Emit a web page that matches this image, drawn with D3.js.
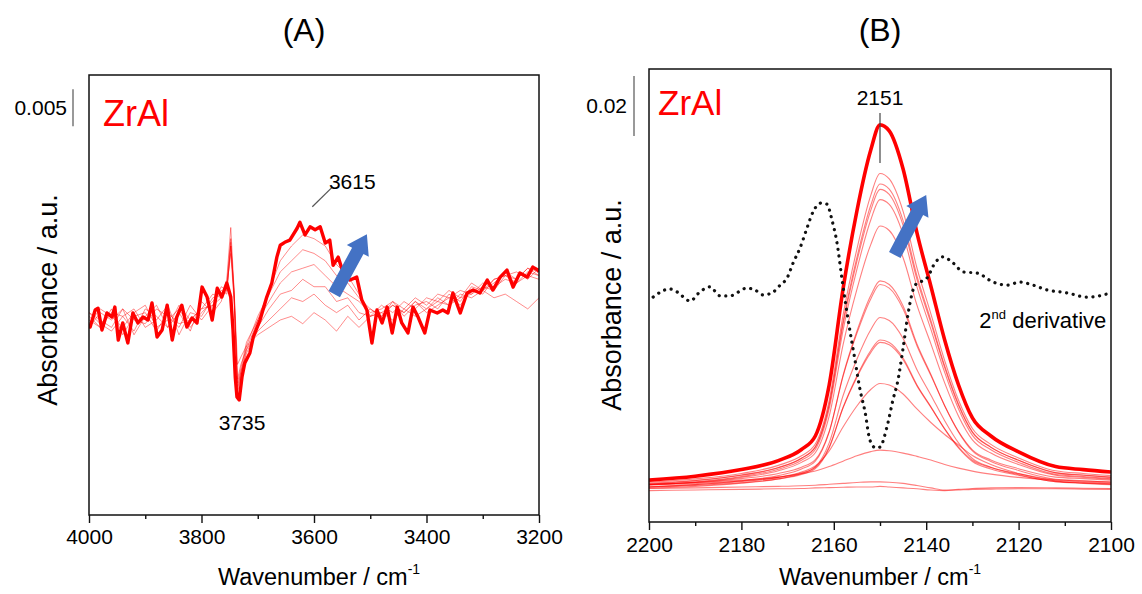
<!DOCTYPE html>
<html><head><meta charset="utf-8">
<script src="https://cdn.jsdelivr.net/npm/d3@7"></script>
<style>body{margin:0;background:#fff}svg{display:block}text{font-family:Arial,"Liberation Sans",sans-serif;fill:#000}</style>
</head><body><svg id="c" width="1142" height="594"></svg>
<script>
// ---------- Panel A data (absorbance in mAbs = 1e-3) ----------
const wnA = [4000,3998,3989,3984,3977,3968,3959,3954,3948,3940,3931,3922,3913,3904,3895,3888,3879,3870,3861,3852,3844,3835,3826,3817,3808,3799,3790,3781,3772,3764,3755,3748,3744,3740,3737,3733,3728,3723,3714,3708,3696,3684,3675,3666,3660,3652,3643,3630,3625,3616,3607,3598,3589,3580,3572,3566,3557,3548,3536,3524,3515,3506,3497,3488,3479,3470,3461,3452,3444,3433,3424,3415,3403,3394,3381,3371,3362,3353,3340,3328,3317,3305,3292,3282,3269,3257,3246,3234,3221,3211,3202,3200];
const thickA = [-0.5,-0.95,1.35,1.6,-1.35,0.95,0.4,1.75,-2.7,-0.4,-3.1,0.95,-0.4,0.4,0,2.3,-2.3,-1.35,2.0,-2.7,0.4,2.0,-0.95,0.27,-0.4,4.45,3.1,0,4.3,3.1,5.0,3.1,-1.35,-7.7,-10.4,-10.8,-7.7,-5.8,-4.45,-2.3,0,3.1,5.0,8.5,10.1,10.5,10.8,12.4,13.2,11.5,12.6,12.2,12.6,10.4,10.8,7.4,8.5,6.35,5.4,5.8,2.7,1.35,-3.1,1.35,-0.4,1.75,-1.75,1.75,-0.4,-1.75,1.75,0.4,-1.75,1.35,0.95,1.35,0.95,3.65,0.95,3.65,4.05,3.65,5.4,4.05,5.8,6.75,4.45,6.35,5.8,7.15,6.75,6.5];
const wnThinA = [4000,3980,3960,3940,3920,3900,3880,3860,3840,3820,3800,3780,3765,3755,3748,3742,3736,3730,3720,3700,3680,3660,3640,3620,3600,3580,3560,3540,3520,3500,3480,3460,3440,3420,3400,3380,3360,3340,3320,3300,3280,3260,3240,3220,3200];
const thinA1 = [0.5,-1,1.5,-2,0.5,1,-1.5,1,-0.5,0,1.5,2, 3,4,10,4,-6,-5,-3.5, -2,-1,0,0.5,-0.5,1,0,-1.5,0.5,-1,0.5,1,2,1,2.5,1.5,3,2,3.5,3,4,3,3.5,2.5,1.5,3];
const thinA2 = [-1,1,0,1.5,-2,0.5,2,-1,1,-1.5,2.5,1, 2.5,5,11,3,-8,-6,-4, -1.5,0,1.5,3,2.5,3.5,2,1,2,0,1.5,0.5,2.5,1.5,3,2,3.5,3,4,3.5,5,4.5,5.5,5,6,5.5];
const thinA3 = [1,-0.5,-1.5,0.5,1.5,-1,0,2,-2,1,0.5,3, 3.5,4.5,9,2.5,-9,-7,-4.5, -1,1.5,3.5,4,5.5,4.5,4.5,2.5,3,1,0.5,2,1,2.5,1.5,3,2.5,4,3,5,4,5.5,6,5,6.5,6];
const thinA4 = [-0.5,1.5,0.5,-1,1,2,-1,0,1.5,-1,1,2.5, 4,3.5,10.5,3.5,-8.5,-6.5,-3, 0,2.5,5,6.5,7,7.5,6,4.5,3.5,2.5,1,1.5,2.5,0.5,2,2.5,1.5,3.5,2.5,4.5,4,5,6.5,5.5,7,6.5];
const thinA5 = [0,-1,1,0.5,-1.5,1.5,0.5,-1,2,0,1.5,3.5, 3,5.5,12.5,4,-9.5,-7,-3.5, 0.5,3.5,6.5,8,9.5,9,8,6,5,3,1.5,0.5,2,1,2.5,1,2,3,2,4,3.5,5.5,6,6.5,5.5,7];
const thinA6 = [1,0,-1,1.5,0,-0.5,1.5,0.5,-1,2,0,2, 4.5,4,10,3,-10,-7.5,-4, 0,4,8,10,11.5,11,10,7.5,6,3.5,0.5,1,0,1.5,0.5,1.5,2.5,2,3,3.5,4.5,4,6,5.5,7,6];
const thinAll = [thinA1,thinA2,thinA3,thinA4,thinA5,thinA6];
const majorTicksA = [4000,3800,3600,3400,3200];
const minorTicksA = [3900,3700,3500,3300];

// ---------- Panel B data (mAbs) ----------
const wnB = [2200,2190,2180,2172,2167,2164,2161,2158,2155,2152,2150,2148,2145,2142,2139,2136,2133,2130,2126,2120,2112,2106,2100];
const thickB = [2.3,3.6,5.8,8.8,12.5,17,34,66,92,112.3,120.7,118.7,106,84.7,67,49,34,23,17,11.7,6.8,5.8,5.0];
const thinB1 = [1.6,2.7,4.5,7.2,10.4,14.3,28.9,57.3,79.3,97.2,104.5,102.7,91.9,73.0,57.8,42.1,28.9,19.5,14.2,9.7,5.4,4.5,3.8];
const thinB2 = [1.0,2.1,3.9,6.4,9.6,13.4,27.6,55.1,76.5,93.9,101,99.3,88.8,70.4,55.6,40.4,27.6,18.4,13.3,8.9,4.7,3.9,3.2];
const thinB3 = [1.2,2.2,4.0,6.5,9.6,13.3,27.2,54.2,75.2,92.2,99.2,97.5,87.2,69.2,54.7,39.8,27.2,18.2,13.2,8.9,4.8,4.0,3.3];
const thinB4 = [0.7,1.7,3.5,5.9,8.9,12.5,26.0,52.2,72.5,89.0,95.8,94.2,84.2,66.7,52.6,38.2,26.0,17.2,12.4,8.2,4.2,3.5,2.8];
const thinB5 = [0.8,1.6,3.2,5.4,8.2,11.4,23.6,47.4,65.9,80.8,87.0,85.5,76.4,60.6,47.8,34.7,23.6,15.7,11.3,7.5,3.9,3.2,2.6];
const thinB6 = [0.1,0.8,2.1,3.8,6.0,8.6,18.3,37.2,51.9,63.8,68.7,67.5,60.3,47.7,37.6,27.1,18.3,12.0,8.5,5.5,2.6,2.1,1.6];
const thinB7 = [0.9,1.5,2.8,4.5,6.6,9.1,18.5,36.9,51.2,62.7,67.5,66.3,59.3,47.1,37.2,27.1,18.5,12.4,9.0,6.1,3.3,2.8,2.3];
const thinB8 = [-0.3,0.2,1.3,2.7,4.5,6.7,14.7,30.4,42.6,52.4,56.5,55.5,49.5,39.1,30.7,22.1,14.7,9.5,6.6,4.1,1.8,1.3,0.9];
const thinB9 = [0,0.5,1.4,2.7,4.2,6.1,13.0,26.5,37.0,45.5,49.0,48.2,43.0,34.0,26.8,19.3,13.0,8.5,6.0,3.9,1.8,1.4,1.1];
const thinB10 = [0.7,1.2,2.0,3.2,4.7,6.5,13.3,26.4,36.6,44.8,48.2,47.4,42.4,33.7,26.6,19.4,13.3,8.9,6.5,4.4,2.4,2.0,1.7];
const thinB11 = [0,0.8,1.8,3.2,5.0,7.0,12.0,20.0,27.0,32.5,34.5,34.0,31.0,26.0,21.5,17.5,14.0,10.5,7.5,4.5,2.0,1.2,0.8];
const thinB12 = [0.8,1.5,2.3,3.3,4.4,5.3,6.8,8.6,10.4,11.8,12.3,12.1,11.3,10.2,9.0,7.5,6.3,5.3,4.3,3.2,2.2,1.7,1.3];
const thinB13 = [-0.5,-0.3,0,0.2,0.4,0.6,0.9,1.2,1.5,1.7,1.7,1.6,1.2,0.5,-0.3,-1.0,-0.8,-0.5,-0.3,-0.2,-0.3,-0.4,-0.5];
const thinB14 = [-1.2,-1.0,-0.8,-0.6,-0.5,-0.3,-0.2,-0.1,0,0,0.2,0,-0.3,-0.6,-1.0,-1.2,-1.0,-0.8,-0.7,-0.6,-0.6,-0.7,-0.8];
const thinBAll = [thinB1,thinB2,thinB3,thinB4,thinB5,thinB6,thinB7,thinB8,thinB9,thinB10,thinB11,thinB12,thinB13,thinB14];
// 2nd derivative (offset, arbitrary scale, drawn in same units)
const wnD = [2199.1,2195.5,2193.9,2191.1,2189.0,2186.8,2184.6,2182.5,2178.8,2177.1,2175.3,2173.4,2171.6,2170.1,2168.8,2167.3,2165.8,2164.5,2162.6,2161.5,2160.4,2159.3,2158.2,2156.9,2155.6,2154.3,2153.2,2152.2,2150.9,2150.0,2148.5,2147.2,2146.1,2145.0,2143.9,2142.4,2139.8,2138.1,2136.4,2134.2,2132.0,2129.0,2125.5,2122.5,2119.7,2116.9,2113.9,2109.5,2105.2,2101.7,2100.2];
const derivD = [63.3,66.0,65.0,62.0,65.0,66.7,63.7,63.7,66.3,65.7,64.0,64.7,67.3,69.7,74.7,79.7,86.3,91.7,94.7,94.3,89.0,81.3,69.0,55.7,44.0,32.3,24.7,15.7,13.0,13.3,20.0,29.0,35.7,46.3,58.0,67.3,69.7,74.7,76.7,74.7,71.7,71.3,68.3,67.3,68.3,67.3,65.7,64.7,63.3,64.0,64.7];
const majorTicksB = [2200,2180,2160,2140,2120,2100];
const minorTicksB = [2190,2170,2150,2130,2110];

// ---------- Layout ----------
const svg = d3.select("#c");
const RED = "#ff0000";
const A = {l:89, r:539, t:75, b:515};
const B = {l:649, r:1111, t:69, b:522};
const xA = d3.scaleLinear([4000,3200],[A.l,A.r]);
const yA = d3.scaleLinear([-26.35,33.11],[A.b,A.t]);
const xB = d3.scaleLinear([2200,2100],[B.l,B.r]);
const yB = d3.scaleLinear([-11.67,139.33],[B.b,B.t]);

const defs = svg.append("defs");
defs.append("clipPath").attr("id","clipA").append("rect").attr("x",A.l).attr("y",A.t).attr("width",A.r-A.l).attr("height",A.b-A.t);
defs.append("clipPath").attr("id","clipB").append("rect").attr("x",B.l).attr("y",B.t).attr("width",B.r-B.l).attr("height",B.b-B.t);

function frame(P, x, major, minor, pad){
  svg.append("rect").attr("x",P.l).attr("y",P.t).attr("width",P.r-P.l).attr("height",P.b-P.t)
    .attr("fill","none").attr("stroke","#111").attr("stroke-width",1.5);
  const g = svg.append("g").attr("transform",`translate(0,${P.b})`)
    .call(d3.axisBottom(x).tickValues(major).tickSize(8).tickSizeOuter(0).tickPadding(pad).tickFormat(d3.format("d")));
  g.select(".domain").remove();
  g.selectAll("line").attr("stroke","#111").attr("stroke-width",1.4);
  g.selectAll("text").attr("font-size",21).attr("font-family","Arial, 'Liberation Sans', sans-serif").attr("fill","#000");
  const g2 = svg.append("g").attr("transform",`translate(0,${P.b})`)
    .call(d3.axisBottom(x).tickValues(minor).tickSize(4).tickSizeOuter(0).tickFormat(""));
  g2.select(".domain").remove();
  g2.selectAll("line").attr("stroke","#111").attr("stroke-width",1.4);
}

function xtitle(cx){
  const t = svg.append("text").attr("x",cx).attr("y",585).attr("text-anchor","middle").attr("font-size",23.5);
  t.append("tspan").text("Wavenumber / cm");
  t.append("tspan").attr("font-size",14).attr("dy",-11).text("-1");
}
function ytitle(cx, cy){
  svg.append("text").attr("transform",`translate(${cx},${cy}) rotate(-90)`).attr("text-anchor","middle")
    .attr("font-size",27).text("Absorbance / a.u.");
}
function arrow(x0,y0,x1,y1){
  const dx=x1-x0, dy=y1-y0, L=Math.hypot(dx,dy), ux=dx/L, uy=dy/L, nx=-uy, ny=ux;
  const hw=6.5, hh=12.5, hl=19;
  const bx=x1-ux*hl, by=y1-uy*hl;
  const pts=[[x0+nx*hw,y0+ny*hw],[bx+nx*hw,by+ny*hw],[bx+nx*hh,by+ny*hh],[x1,y1],[bx-nx*hh,by-ny*hh],[bx-nx*hw,by-ny*hw],[x0-nx*hw,y0-ny*hw]];
  svg.append("polygon").attr("points",pts.map(p=>p.join(",")).join(" ")).attr("fill","#4472C4");
}

// ---------- Panel A ----------
const gA = svg.append("g").attr("clip-path","url(#clipA)");
const lineThinA = d3.line().x((d,i)=>xA(wnThinA[i])).y(d=>yA(d));
thinAll.forEach(s=>gA.append("path").attr("d",lineThinA(s)).attr("fill","none").attr("stroke",RED).attr("stroke-opacity",0.45).attr("stroke-width",1));
const lineA = d3.line().x((d,i)=>xA(wnA[i])).y(d=>yA(d));
gA.append("path").attr("d",lineA(thickA)).attr("fill","none").attr("stroke",RED).attr("stroke-width",3.4).attr("stroke-linejoin","round");
frame(A, xA, majorTicksA, minorTicksA, 6);
xtitle((A.l+A.r)/2+5);
ytitle(57, 300);
svg.append("text").attr("x",(A.l+A.r)/2-10).attr("y",41).attr("text-anchor","middle").attr("font-size",32).text("(A)");
svg.append("text").attr("x",A.l+14).attr("y",126).attr("font-size",36).style("fill",RED).text("ZrAl");
// scale bar 0.005
svg.append("line").attr("x1",A.l-16).attr("x2",A.l-16).attr("y1",yA(26.2)).attr("y2",yA(31.2)).attr("stroke","#555").attr("stroke-width",1.2);
svg.append("text").attr("x",A.l-22).attr("y",yA(28.7)+7.5).attr("text-anchor","end").attr("font-size",21).text("0.005");
// annotations
svg.append("line").attr("x1",xA(3603)).attr("y1",yA(15.3)).attr("x2",xA(3567)).attr("y2",yA(18)).attr("stroke","#555").attr("stroke-width",1.2);
svg.append("text").attr("x",xA(3532)).attr("y",189).attr("text-anchor","middle").attr("font-size",21).text("3615");
svg.append("text").attr("x",xA(3728)).attr("y",yA(-14.9)).attr("text-anchor","middle").attr("font-size",21).text("3735");
arrow(xA(3564),yA(3.5),xA(3506),yA(11.6));

// ---------- Panel B ----------
const gB = svg.append("g").attr("clip-path","url(#clipB)");
const lineB = d3.line().x((d,i)=>xB(wnB[i])).y(d=>yB(d)).curve(d3.curveMonotoneX);
thinBAll.forEach(s=>gB.append("path").attr("d",lineB(s)).attr("fill","none").attr("stroke",RED).attr("stroke-opacity",0.5).attr("stroke-width",1.1));
gB.append("path").attr("d",lineB(thickB)).attr("fill","none").attr("stroke",RED).attr("stroke-width",3.6);
const lineD = d3.line().x((d,i)=>xB(wnD[i])).y(d=>yB(d)).curve(d3.curveMonotoneX);
gB.append("path").attr("d",lineD(derivD)).attr("fill","none").attr("stroke","#111").attr("stroke-width",3.2)
  .attr("stroke-linecap","round").attr("stroke-dasharray","0.1 6.6");
frame(B, xB, majorTicksB, minorTicksB, 7);
xtitle((B.l+B.r)/2);
ytitle(621, 305);
svg.append("text").attr("x",(B.l+B.r)/2).attr("y",41).attr("text-anchor","middle").attr("font-size",32).text("(B)");
svg.append("text").attr("x",B.l+9).attr("y",115).attr("font-size",35).style("fill",RED).text("ZrAl");
svg.append("line").attr("x1",B.l-15).attr("x2",B.l-15).attr("y1",yB(117)).attr("y2",yB(137)).attr("stroke","#555").attr("stroke-width",1.2);
svg.append("text").attr("x",B.l-22).attr("y",yB(127)+7.5).attr("text-anchor","end").attr("font-size",21).text("0.02");
svg.append("line").attr("x1",xB(2150)).attr("x2",xB(2150)).attr("y1",yB(124.7)).attr("y2",yB(108)).attr("stroke","#444").attr("stroke-width",1.2);
svg.append("text").attr("x",xB(2150)).attr("y",yB(127.3)).attr("text-anchor","middle").attr("font-size",21).text("2151");
const t2 = svg.append("text").attr("x",xB(2128.5)).attr("y",328).attr("font-size",22);
t2.append("tspan").text("2");
t2.append("tspan").attr("font-size",13).attr("dy",-9).text("nd");
t2.append("tspan").attr("dy",9).text(" derivative");
arrow(xB(2146.8),yB(77.3),xB(2140),yB(97.3));
</script></body></html>
